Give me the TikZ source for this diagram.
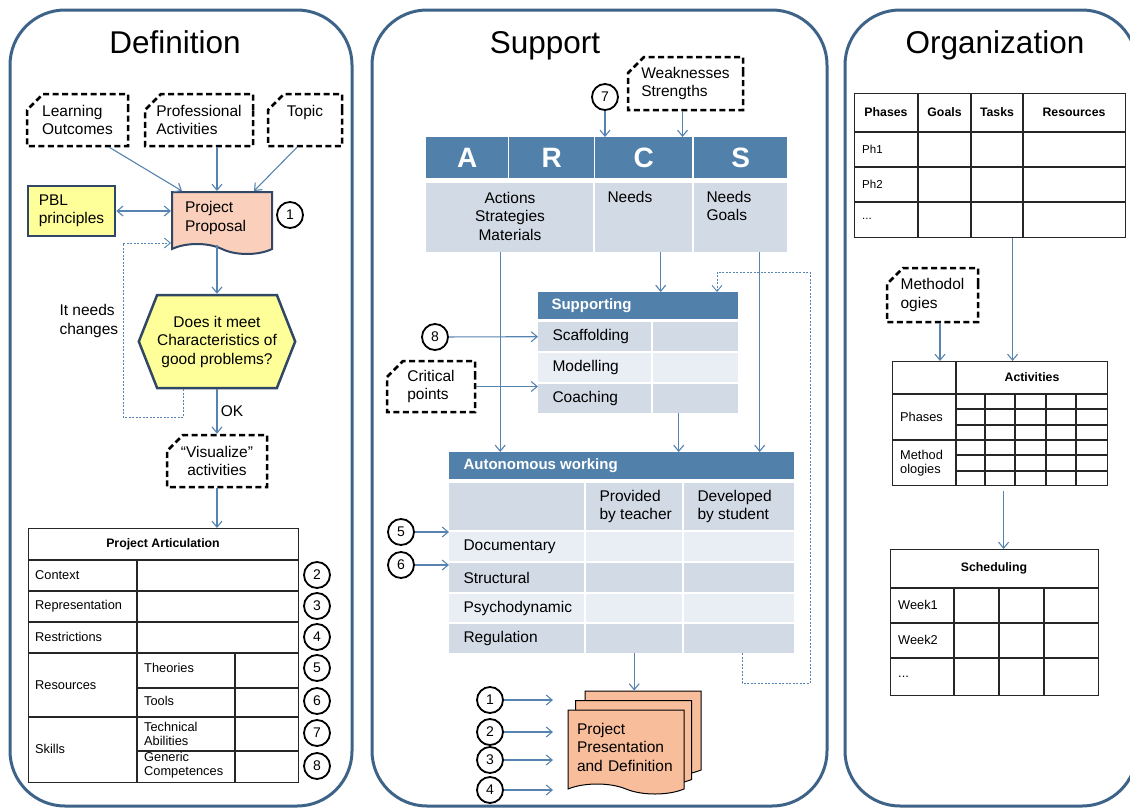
\documentclass[tikz,border=0pt]{standalone}
\usepackage{fontspec}
\setmainfont{Liberation Sans}
\usetikzlibrary{positioning, calc, arrows.meta, shapes.misc, shapes.symbols}

\definecolor{panelblue}{RGB}{62,99,136}
\definecolor{arrowblue}{RGB}{86,131,176}
\definecolor{headblue}{RGB}{81,129,171}
\definecolor{celldark}{RGB}{209,218,229}
\definecolor{celllight}{RGB}{233,237,244}
\definecolor{peach}{RGB}{250,207,188}
\definecolor{salmon}{RGB}{248,190,156}
\definecolor{paleyellow}{RGB}{255,255,153}
\definecolor{docedge}{RGB}{48,72,102}

\begin{document}
\begin{tikzpicture}[x=1pt, y=-1pt,
		panel/.style={draw=panelblue, line width=3pt, rounded corners=55pt},
		ttl/.style={font=\fontsize{31.5}{36}\selectfont, anchor=base},
		lbl/.style={font=\fontsize{15.5}{18.5}\selectfont, align=left},
		tab/.style={font=\fontsize{12.8}{14.5}\selectfont, align=left, inner sep=0pt},
		tabb/.style={font=\bfseries\fontsize{12.3}{14.5}\selectfont, inner sep=0pt},
		card/.style={chamfered rectangle, chamfered rectangle corners=north west,
			chamfered rectangle xsep=9pt, chamfered rectangle ysep=7pt, draw=black,
			line width=2.5pt, dash pattern=on 6pt off 3.5pt, lbl, inner sep=0pt},
		paper/.style={tape, tape bend top=none, tape bend bottom=out and in,
			tape bend height=10pt, fill=peach, draw=docedge, line width=2pt, lbl, inner sep=0pt},
		note/.style={draw=docedge, line width=2.5pt, fill=paleyellow, lbl, inner sep=0pt},
		hexa/.style={signal, signal to=east and west, signal pointer angle=137,
			draw=docedge, line width=2.5pt, fill=paleyellow, lbl, align=center, inner sep=0pt},
		num/.style={circle, draw=black, line width=1.8pt, minimum size=26pt, inner sep=0pt,
			font=\fontsize{14}{14}\selectfont},
		arr/.style={draw=arrowblue, line width=1.1pt, -{Straight Barb[length=6pt, width=10pt]}},
		dbl/.style={arr, {Straight Barb[length=6pt, width=10pt]}-{Straight Barb[length=6pt, width=10pt]}},
		loopback/.style={draw=arrowblue, line width=0.9pt, dash pattern=on 2pt off 1.5pt},
		tbl/.style={draw=black!85, line width=1.2pt, inner sep=0pt, anchor=north west},
		tline/.style={draw=black!85, line width=1.2pt},
		hcell/.style={fill=headblue, text=white, inner sep=0pt, anchor=north west},
		cell/.style={inner sep=0pt, anchor=north west},
		htxt/.style={text=white, font=\bfseries\fontsize{15}{18}\selectfont, anchor=west}
	]
	\useasboundingbox (0,0) rectangle (1130,809);

	% three panels
	\draw[panel] (10,10) rectangle (352,806);
	\draw[panel] (372,10) rectangle (827,806);
	\draw[panel] (845,10) rectangle (1137,806);
	\node[ttl] (tdef) at (175,53) {Definition};
	\node[ttl] (tsup) at (545,53) {Support};
	\node[ttl] (torg) at (995,53) {Organization};

	% Definition
	\node[card, minimum width=101, minimum height=52] (lo) at (77.5,120) {Learning\\Outcomes};
	\node[card, minimum width=108, minimum height=52] (pa) at (199,120) {Professional\\Activities};
	\node[card, minimum width=74, minimum height=52] (tp) at (305,120) {Topic\\\mbox{}};
	\node[paper, text width=74pt, minimum width=100, minimum height=62] (pp) at (222,218) {Project\\Proposal};
	\node[num] (n1) at (290,215) {1};
	\node[note, minimum width=87, minimum height=50] (pbl) at (71.5,211) {PBL\\principles};
	\node[hexa, minimum width=154, minimum height=93] (hex) at (217,341.5) {Does it meet\\Characteristics of\\good problems?};
	\node[lbl, anchor=west] (need) at (56,321) {It needs\\changes};
	\node[card, align=center, minimum width=100, minimum height=52] (vis) at (217,461) {“Visualize”\\activities};

	\draw[arr] ([xshift=-20pt]lo.south east) -- ([xshift=11pt]pp.north west);
	\draw[arr] ([xshift=18pt]pa.south) -- ([xshift=-5pt]pp.north);
	\draw[arr] ([xshift=-8pt]tp.south) -- ([xshift=-19pt]pp.north east);
	\draw[dbl] (pbl) -- (pbl -| pp.west);
	\draw[arr] ([xshift=-5pt]pp.south) -- (hex.north);
	\draw[arr] (hex.south) -- node[right, lbl] {OK} (vis.north);
	\draw[loopback, -{Straight Barb[length=6pt, width=10pt]}] ([xshift=-34pt]hex.south) -- ++(0,28) -| (123,300) |- ([yshift=-25pt]pp.west);

	\node[tbl, minimum width=270, minimum height=254] (art) at (28,528) {};
	\draw[arr] (vis.south) -- (vis.south |- art.north);
	\foreach \y in {560,591,622,653,717}
		\draw[tline] (28,\y) -- (298,\y);
	\draw[tline] (137,560) -- (137,782) (235,653) -- (235,782) (137,688) -- (298,688) (137,751) -- (298,751);
	\node[tabb] at (163,544) {Project Articulation};
	\foreach \t/\y in {Context/575, Representation/606, Restrictions/637, Resources/685, Skills/749}
		\node[tab, anchor=west] at (35,\y) {\t};
	\node[tab, anchor=west] at (144,668) {Theories};
	\node[tab, anchor=west] at (144,701) {Tools};
	\node[tab, anchor=west] at (144,734) {Technical\\Abilities};
	\node[tab, anchor=west] at (144,765) {Generic\\Competences};
	\foreach \i/\y in {2/575, 3/606, 4/637, 5/668, 6/701, 7/733, 8/766}
		\node[num] (p\i) at (317,\y) {\i};

	% Support: ARCS
	\node[card, minimum width=115, minimum height=53] (ws) at (685.5,83.5) {Weaknesses\\Strengths};
	\node[num] (n7) at (605,97) {7};
	\foreach \l/\x/\w in {A/426/82, R/509/85, C/595/97, S/694/93}
		\node[hcell, minimum width=\w, minimum height=41, font=\bfseries\fontsize{28}{30}\selectfont] (\l) at (\x,137) {\l};
	\node[cell, fill=celldark, minimum width=167, minimum height=69] (AR) at (426,183) {};
	\node[cell, fill=celldark, minimum width=97, minimum height=69] (Cc) at (595,183) {};
	\node[cell, fill=celldark, minimum width=93, minimum height=69] (Sc) at (694,183) {};
	\node[lbl, align=center] at (510,216) {Actions\\Strategies\\Materials};
	\node[lbl, anchor=west] at (604,197) {Needs};
	\node[lbl, anchor=west] at (703,206) {Needs\\Goals};
	\draw[arr] (n7) -- (n7 |- C.north);
	\draw[arr] ([xshift=-3pt]ws.south) -- ([xshift=-3pt]ws.south |- C.north);

	% Support: supporting
	\node[hcell, minimum width=200, minimum height=27] (sup) at (538,292) {};
	\node[htxt] at ([xshift=10pt]sup.west) {Supporting};
	\foreach \n/\t/\y/\c in {sc/Scaffolding/322/celldark, mo/Modelling/353/celllight, co/Coaching/384/celldark} {
		\node[cell, fill=\c, minimum width=113, minimum height=29] (\n) at (538,\y) {};
		\node[cell, fill=\c, minimum width=85, minimum height=29] (\n2) at (653,\y) {};
		\node[lbl, anchor=west] at ([xshift=11pt]\n.west) {\t};
	}
	\node[num] (n8) at (435,337) {8};
	\node[card, minimum width=88, minimum height=51] (cp) at (431,386.5) {Critical\\points};
	\draw[arr] (n8) -- (sc.west);
	\draw[arr] (cp.east) -- (cp.east -| co.west);
	\draw[arr] ([xshift=17pt]Cc.south) -- ([xshift=17pt]Cc.south |- sup.north);

	% Support: autonomous working
	\node[hcell, minimum width=345, minimum height=27] (aw) at (449,452) {};
	\node[htxt] at ([xshift=11pt]aw.west) {Autonomous working};
	\foreach \n/\t/\y/\h/\c in {hd//483/47/celldark, dc/Documentary/532/29/celllight, st/Structural/563/29/celldark, ps/Psychodynamic/594/28/celllight, rg/Regulation/624/29/celldark} {
		\node[cell, fill=\c, minimum width=135, minimum height=\h] (\n1) at (449,\y) {};
		\node[cell, fill=\c, minimum width=96, minimum height=\h] (\n2) at (586,\y) {};
		\node[cell, fill=\c, minimum width=110, minimum height=\h] (\n3) at (684,\y) {};
		\node[lbl, anchor=west] at ([xshift=11pt]\n1.west) {\t};
	}
	\node[lbl, anchor=west] at ([xshift=10pt]hd2.west) {Provided\\by teacher};
	\node[lbl, anchor=west] at ([xshift=10pt]hd3.west) {Developed\\by student};
	\draw[arr] ([xshift=-9.5pt]AR.south) -- ([xshift=-9.5pt]AR.south |- aw.north);
	\draw[arr] ([xshift=19pt]Sc.south) -- ([xshift=19pt]Sc.south |- aw.north);
	\draw[arr] ([xshift=-17pt]co2.south) -- ([xshift=-17pt]co2.south |- aw.north);
	\node[num] (n5) at (401,532) {5};
	\node[num] (n6) at (401,565) {6};
	\draw[arr] (n5) -- (n5 -| aw.west);
	\draw[arr] (n6) -- (n6 -| aw.west);
	\coordinate (fb) at (717,272);
	\draw[loopback, -{Straight Barb[length=6pt, width=10pt]}] ([xshift=3pt]rg3.south) -- ++(0,30) -| (810,272) -- (fb) -- (fb |- sup.north);

	% Support: project presentation
	\foreach \n/\d in {d3/19, d2/9.5}
		\node[paper, fill=salmon, draw=black, line width=1pt, minimum width=116, minimum height=84] (\n) at (624+\d,747-\d) {};
	\node[paper, fill=salmon, draw=black, line width=1pt, text width=98pt, minimum width=116, minimum height=84] (d1) at (626,747) {Project\\Presentation\\and Definition};
	\draw[arr] (rg2.south) -- (rg2.south |- d3.north);
	\coordinate (din) at (553,0);
	\foreach \i/\y in {1/700, 2/732, 3/760, 4/790} {
		\node[num] (m\i) at (490,\y) {\i};
		\draw[arr] (m\i) -- (m\i -| din);
	}

	% Organization
	\node[tbl, minimum width=271, minimum height=144] (ph) at (854,93) {};
	\foreach \y in {132,167,202}
		\draw[tline] (854,\y) -- (1125,\y);
	\foreach \x in {918,971,1023}
		\draw[tline] (\x,93) -- (\x,237);
	\foreach \t/\x in {Phases/886, Goals/944.5, Tasks/997, Resources/1074}
		\node[tabb] at (\x,112) {\t};
	\node[tab, anchor=west, font=\fontsize{11.5}{13}\selectfont] at (862,149) {Ph1};
	\node[tab, anchor=west, font=\fontsize{11.5}{13}\selectfont] at (862,184) {Ph2};
	\node[tab, anchor=west, font=\fontsize{11.5}{13}\selectfont] at (862,219) {...};

	\node[card, minimum width=91, minimum height=54] (meth) at (932.5,295) {Methodol\\ogies};

	\node[tbl, minimum width=215, minimum height=124] (act) at (892,361) {};
	\draw[tline] (892,394) -- (1107,394) (892,440) -- (1107,440) (956,361) -- (956,485);
	\foreach \y in {409,425,455,471}
		\draw[tline] (956,\y) -- (1107,\y);
	\foreach \x in {985,1015,1046,1076}
		\draw[tline] (\x,394) -- (\x,485);
	\node[tabb] at (1032,377) {Activities};
	\node[tab, anchor=west] at (900,417) {Phases};
	\node[tab, anchor=west] at (900,463) {Method\\ologies};
	\draw[arr] ([xshift=22.5pt]ph.south) -- ([xshift=22.5pt]ph.south |- act.north);
	\draw[arr] ([xshift=7.5pt]meth.south) -- ([xshift=7.5pt]meth.south |- act.north);

	\node[tbl, minimum width=208, minimum height=146] (sch) at (890,549) {};
	\draw[tline] (890,588) -- (1098,588) (890,623) -- (1098,623) (890,658) -- (1098,658);
	\foreach \x in {954,999,1044}
		\draw[tline] (\x,588) -- (\x,695);
	\node[tabb] at (994,568) {Scheduling};
	\node[tab, anchor=west] at (898,605) {Week1};
	\node[tab, anchor=west] at (898,640) {Week2};
	\node[tab, anchor=west] at (898,677) {...};
	\draw[arr] ([xshift=3.5pt,yshift=-5pt]act.south) -- ([xshift=3.5pt]act.south |- sch.north);
\end{tikzpicture}
\end{document}
